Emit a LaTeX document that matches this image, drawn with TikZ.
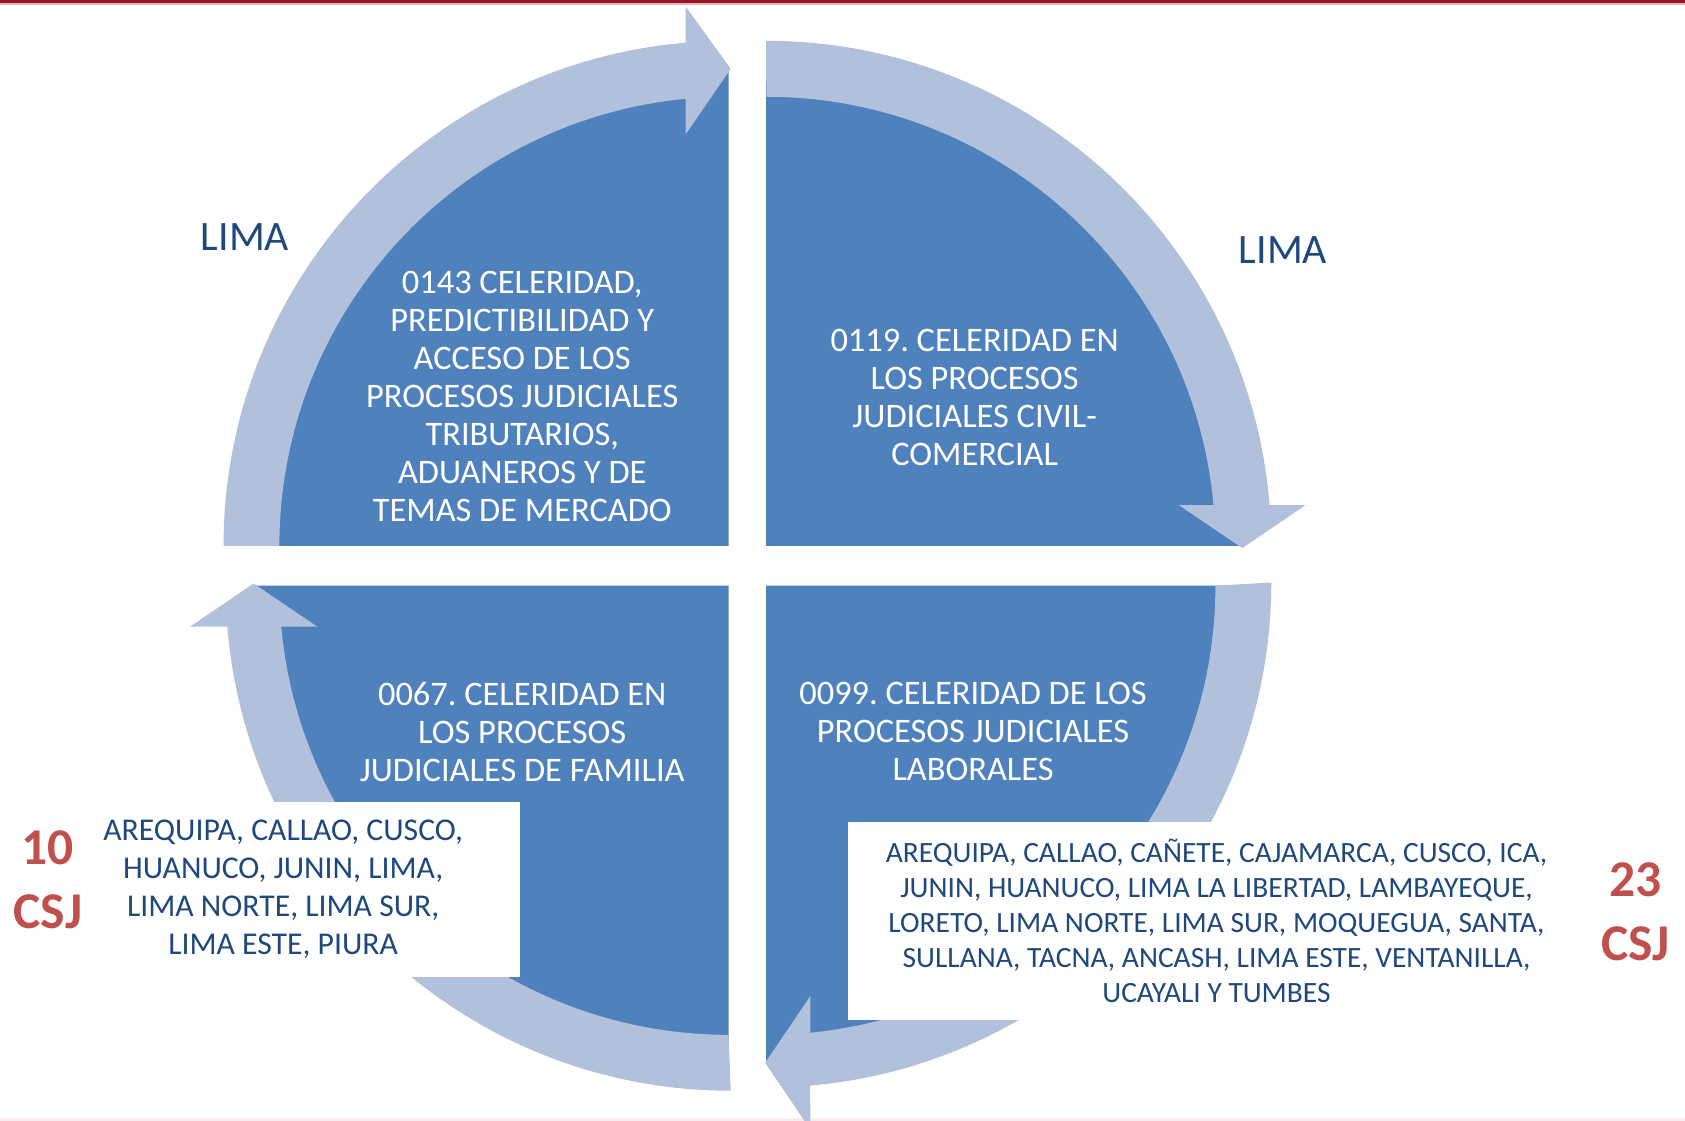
\documentclass[tikz,border=0pt]{standalone}
\usepackage{fontspec}
\setmainfont{Carlito}
\frenchspacing
\definecolor{darkq}{RGB}{79,129,189}
\definecolor{lightb}{RGB}{178,193,219}
\definecolor{navy}{RGB}{31,73,125}
\definecolor{csjred}{RGB}{192,80,77}
\definecolor{topred}{RGB}{150,22,36}
\definecolor{toppink}{RGB}{225,180,188}
\definecolor{botpink}{RGB}{248,234,238}
\begin{document}
\begin{tikzpicture}[x=1pt,y=1pt,
  quad/.style={fill=darkq, draw=none},
  band/.style={fill=lightb, draw=none},
  qtext/.style={text=white, align=center, inner sep=0pt, font=\fontsize{32}{35.3}\selectfont},
  listL/.style={text=navy, align=center, inner sep=0pt, fill=white, font=\fontsize{29.5}{35.5}\selectfont},
  listR/.style={text=navy, align=center, inner sep=0pt, fill=white, font=\fontsize{27.4}{32.7}\selectfont},
  limalabel/.style={text=navy, inner sep=0pt, font=\fontsize{39}{46}\selectfont},
  csj/.style={text=csjred, align=center, inner sep=0pt, font=\fontsize{48}{59}\selectfont\bfseries}
]
% canvas
\fill[white] (0,0) rectangle (1568,-1043);
\useasboundingbox (0,0) rectangle (1568,-1043);
\fill[topred] (0,0) rectangle (1568,-3);
\fill[toppink] (0,-3) rectangle (1568,-4.5);
\fill[botpink] (0,-1040.5) rectangle (1568,-1043);

% dark quadrants
\fill[quad] (678,-508) -- (233,-508) arc[start angle=180,end angle=90,radius=445] -- cycle;
\fill[quad] (713,-508) -- (713,-63) arc[start angle=90,end angle=0,radius=445] -- cycle;
\fill[quad] (678,-545) -- (678,-990) arc[start angle=270,end angle=180,radius=445] -- cycle;
\fill[quad] (713,-545) -- (1158,-545) arc[start angle=0,end angle=-90,radius=445] -- cycle;

% curved arrows
% top-left: up and to the right
\fill[band] (208,-508) arc[start angle=180,end angle=94.88,radius=470]
  -- (638,-6) -- (680,-64) -- (638,-125) -- (638,-91.9)
  arc[start angle=95.49,end angle=180,radius=418] -- cycle;
% top-right: right and down
\fill[band] (713,-38) arc[start angle=90,end angle=4.64,radius=470]
  -- (1215,-470) -- (1156,-510) -- (1097,-470) -- (1129.3,-470)
  arc[start angle=5.22,end angle=90,radius=418] -- cycle;
% bottom-left: left and up
\fill[band] (680,-1015) arc[start angle=270,end angle=184.64,radius=470]
  -- (177,-583) -- (236,-543) -- (295,-583) -- (261.7,-583)
  arc[start angle=185.22,end angle=270,radius=418] -- cycle;
% bottom-right: down and left
\fill[band] (1183,-542) arc[start angle=0,end angle=-85.0,radius=470]
  -- (754,-1051) -- (712,-989) -- (754,-927) -- (754,-961)
  arc[start angle=-84.37,end angle=0,radius=418] -- cycle;

% quadrant texts
\node[qtext] (tl) at (486,-369) {0143 CELERIDAD,\\PREDICTIBILIDAD Y\\ACCESO DE LOS\\PROCESOS JUDICIALES\\TRIBUTARIOS,\\ADUANEROS Y DE\\TEMAS DE MERCADO};
\node[qtext] (tr) at (907,-369.5) {0119. CELERIDAD EN\\LOS PROCESOS\\JUDICIALES CIVIL-\\COMERCIAL};
\node[qtext] (bl) at (486,-681) {0067. CELERIDAD EN\\LOS PROCESOS\\JUDICIALES DE FAMILIA};
\node[qtext] (br) at (905.5,-681) {0099. CELERIDAD DE LOS\\PROCESOS JUDICIALES\\LABORALES};

% LIMA labels
\node[limalabel] (limaL) at (228,-221) {LIMA};
\node[limalabel] (limaR) at (1194,-233) {LIMA};

% lists
\node[listL, minimum width=441, minimum height=163] (listl) at (263.5,-827.5)
  {AREQUIPA, CALLAO, CUSCO,\\HUANUCO, JUNIN, LIMA,\\LIMA NORTE, LIMA SUR,\\LIMA ESTE, PIURA};
\node[listR, minimum width=686, minimum height=184] (listr) at (1132,-857)
  {AREQUIPA, CALLAO, CAÑETE, CAJAMARCA, CUSCO, ICA,\\JUNIN, HUANUCO, LIMA LA LIBERTAD, LAMBAYEQUE,\\LORETO, LIMA NORTE, LIMA SUR, MOQUEGUA, SANTA,\\SULLANA, TACNA, ANCASH, LIMA ESTE, VENTANILLA,\\UCAYALI Y TUMBES};

% CSJ counts
\node[csj] (csjL) at (44.5,-818.5) {10\\CSJ};
\node[csj] (csjR) at (1522,-848.5) {23\\CSJ};
\end{tikzpicture}
\end{document}
